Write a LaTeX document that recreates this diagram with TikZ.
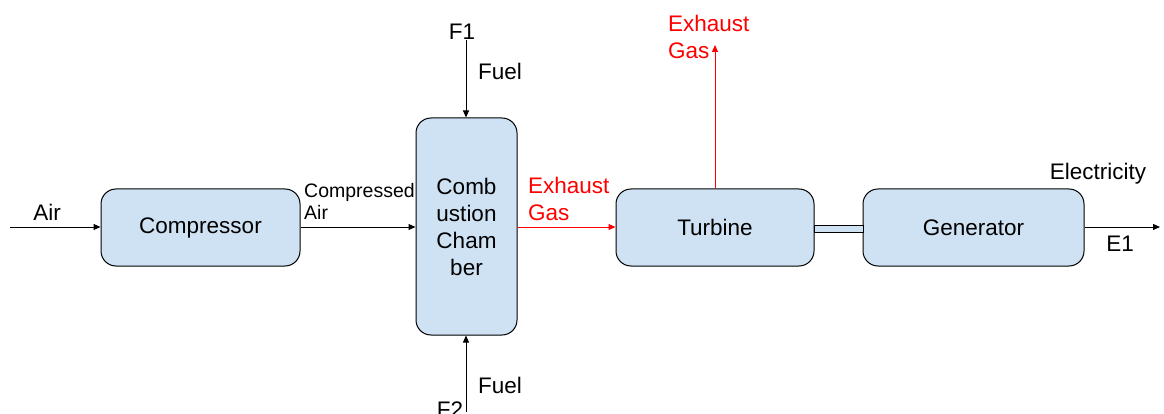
\documentclass[tikz,border=0pt]{standalone}
\usepackage{fontspec}
\setmainfont{Liberation Sans}
\usetikzlibrary{arrows.meta,positioning}
\definecolor{boxfill}{HTML}{CFE2F3}
\definecolor{exred}{HTML}{FF0000}
\tikzset{
  unit/.style={draw=black, fill=boxfill, rounded corners=15pt, line width=1pt, inner sep=0pt, font=\fontsize{22.5}{27}\selectfont},
  arr/.style={line width=1pt, -{Triangle[length=7pt,width=6pt]}},
  lbl/.style={inner sep=0pt, font=\fontsize{22.5}{27}\selectfont},
  small/.style={inner sep=0pt, font=\fontsize{19.5}{22}\selectfont},
}
\begin{document}
\begin{tikzpicture}[x=1pt,y=-1pt]
\useasboundingbox (0,0) rectangle (1164,414);
% units
\node[unit, minimum width=199pt, minimum height=77pt] (comp) at (200.5,227.5) {Compressor};
\node[unit, minimum width=101pt, minimum height=217pt, align=center] (cc) at (466.5,226.5) {Comb\\ustion\\Cham\\ber};
\node[unit, minimum width=198pt, minimum height=77pt] (turb) at (715,227.5) {Turbine};
\node[unit, minimum width=221pt, minimum height=77pt] (gen) at (973.5,227.5) {Generator};
% shaft
\node[draw=black, fill=boxfill, line width=1pt, inner sep=0pt, minimum width=49pt, minimum height=7pt] (shaft) at (838.5,228.5) {};
% free ends
\coordinate (airin) at (10,227);
\coordinate (f1top) at (466,40);
\coordinate (f2bot) at (466,412);
\coordinate (exout) at (715,45);
\coordinate (eout) at (1160,227);
% connectors
\draw[arr] (airin) -- (airin -| comp.west);
\draw[arr] (comp.east |- 0,227) -- (cc.west |- 0,227);
\draw[arr, draw=exred, color=exred] (cc.east |- 0,227) -- (turb.west |- 0,227);
\draw[arr] (f1top) -- (f1top |- cc.north);
\draw[arr] (f2bot) -- (f2bot |- cc.south);
\draw[arr, draw=exred, color=exred] (exout |- turb.north) -- (exout);
\draw[arr] (gen.east |- 0,227) -- (eout);
% labels
\node[lbl] (lair) at (47,212) {Air};
\node[small, align=left, anchor=west] (lcomp) at (304,201) {Compressed\\Air};
\node[lbl, align=left, anchor=west, text=exred] (lex1) at (528,199) {Exhaust\\Gas};
\node[lbl, align=left, anchor=west, text=exred] (lex2) at (668,37) {Exhaust\\Gas};
\node[lbl] (lf1) at (462,32) {F1};
\node[lbl] (lfuel1) at (500,71) {Fuel};
\node[lbl] (lf2) at (450,410) {F2};
\node[lbl] (lfuel2) at (500,385) {Fuel};
\node[lbl] (lelec) at (1098,174) {Electricity};
\node[lbl] (le1) at (1120,244) {E1};
\end{tikzpicture}
\end{document}
